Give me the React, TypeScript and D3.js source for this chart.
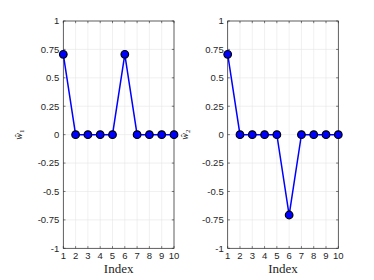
import React from "react";
import * as d3 from "d3";

const indices = [1, 2, 3, 4, 5, 6, 7, 8, 9, 10];
const w1 = [0.7071, 0, 0, 0, 0, 0.7071, 0, 0, 0, 0];
const w2 = [0.7071, 0, 0, 0, 0, -0.7071, 0, 0, 0, 0];
const yTicks = [-1, -0.75, -0.5, -0.25, 0, 0.25, 0.5, 0.75, 1];
const yTickLabels = ["-1", "-0.75", "-0.5", "-0.25", "0", "0.25", "0.5", "0.75", "1"];
const panels = [
  { values: w1, sub: "1", x0: 63.3, x1: 174, labelX: 22 },
  { values: w2, sub: "2", x0: 227.7, x1: 338.3, labelX: 188 },
];

const TOP = 21;
const BOT = 248.3;

function Panel({ values, sub, x0, x1, labelX }: any) {
  const x = d3.scaleLinear().domain([1, 10]).range([x0, x1]);
  const y = d3.scaleLinear().domain([-1, 1]).range([BOT, TOP]);
  const line = d3
    .line<number>()
    .x((_, i) => x(indices[i]))
    .y((d) => y(d));
  const axisColor = "#262626";
  const tl = 2.2;
  return (
    <g>
      {indices.map((v) => (
        <line key={"gx" + v} x1={x(v)} x2={x(v)} y1={TOP} y2={BOT} stroke="#e6e6e6" strokeWidth={0.6} />
      ))}
      {yTicks.map((v) => (
        <line key={"gy" + v} x1={x0} x2={x1} y1={y(v)} y2={y(v)} stroke="#e6e6e6" strokeWidth={0.6} />
      ))}
      {indices.map((v) => (
        <g key={"tx" + v}>
          <line x1={x(v)} x2={x(v)} y1={BOT} y2={BOT - tl} stroke={axisColor} strokeWidth={0.6} />
          <line x1={x(v)} x2={x(v)} y1={TOP} y2={TOP + tl} stroke={axisColor} strokeWidth={0.6} />
          <text x={x(v)} y={BOT + 11} textAnchor="middle" fontSize={9.5} fontFamily="Liberation Sans, Arial, sans-serif" fill={axisColor}>
            {v}
          </text>
        </g>
      ))}
      {yTicks.map((v, i) => (
        <g key={"ty" + v}>
          <line x1={x0} x2={x0 + tl} y1={y(v)} y2={y(v)} stroke={axisColor} strokeWidth={0.6} />
          <line x1={x1} x2={x1 - tl} y1={y(v)} y2={y(v)} stroke={axisColor} strokeWidth={0.6} />
          <text x={x0 - 4} y={y(v) + 3.3} textAnchor="end" fontSize={9.5} fontFamily="Liberation Sans, Arial, sans-serif" fill={axisColor}>
            {yTickLabels[i]}
          </text>
        </g>
      ))}
      <rect x={x0} y={TOP} width={x1 - x0} height={BOT - TOP} fill="none" stroke={axisColor} strokeWidth={0.7} />
      <path d={line(values) || ""} fill="none" stroke="#0000ff" strokeWidth={1.5} />
      {values.map((v: number, i: number) => (
        <circle key={"m" + i} cx={x(indices[i])} cy={y(v)} r={3.8} fill="#0000ff" stroke="#000" strokeWidth={1.2} />
      ))}
      <text x={(x0 + x1) / 2} y={BOT + 25} textAnchor="middle" fontSize={13} fontFamily="Liberation Serif, serif" fill={axisColor}>
        Index
      </text>
      <text
        transform={`translate(${labelX},${(TOP + BOT) / 2}) rotate(-90)`}
        textAnchor="middle"
        fontSize={10}
        fontFamily="Liberation Serif, serif"
        fontStyle="italic"
        fill={axisColor}
      >
        ŵ<tspan fontSize={7} dy={2} fontStyle="normal">{sub}</tspan>
      </text>
    </g>
  );
}

export default function App() {
  return (
    <svg width={374} height={280} style={{ position: "absolute", left: 0, top: 0, background: "#fff" }}>
      <rect x={0} y={0} width={374} height={280} fill="#fff" />
      {panels.map((p, i) => (
        <Panel key={i} {...p} />
      ))}
    </svg>
  );
}
